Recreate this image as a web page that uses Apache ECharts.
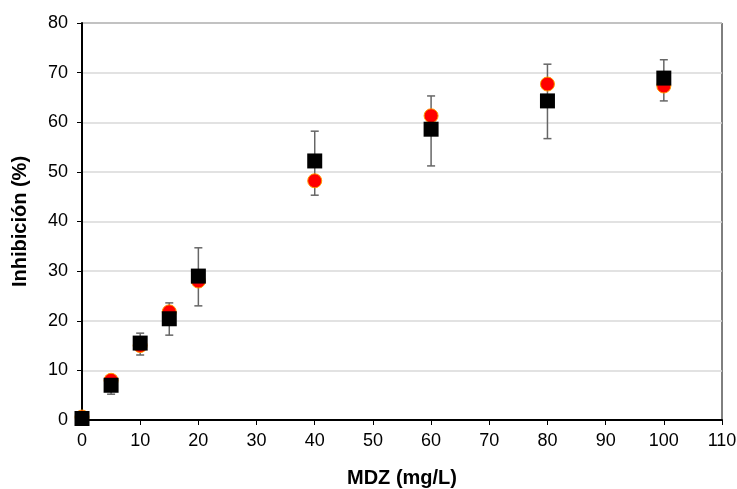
<!DOCTYPE html>
<html>
<head>
    <meta charset="utf-8">
    <title>ECharts</title>
    <script src="https://cdn.jsdelivr.net/npm/echarts@6/dist/echarts.min.js"></script>
</head>
<body style="margin:0">
    <div id="main" style="width: 737px;height:489px;"></div>
    <script>
        var doses = [0, 5, 10, 15, 20, 40, 60, 80, 100];
        var circleVals = [0.6, 8.0, 15.0, 21.8, 28.0, 48.2, 61.3, 67.7, 67.3];
        var squareVals = [0.3, 7.0, 15.5, 20.4, 29.0, 52.2, 58.6, 64.3, 68.9];
        var errLow = [0.3, 5.2, 13.1, 17.1, 23.0, 45.3, 51.2, 56.7, 64.3];
        var errHigh = [0.3, 8.8, 17.5, 23.6, 34.7, 58.2, 65.3, 71.7, 72.6];
        var xTicks = [0, 10, 20, 30, 40, 50, 60, 70, 80, 90, 100, 110];
        var yTicks = [0, 10, 20, 30, 40, 50, 60, 70, 80];

        var chartDom = document.getElementById('main');
        var myChart = echarts.init(chartDom);
        var option;

        var font = 'Liberation Sans, Arial, sans-serif';

        var errData = doses.map(function (d, i) {
            return [d, errLow[i], errHigh[i]];
        });

        option = {
            animation: false,
            backgroundColor: '#fff',
            grid: {
                left: 82,
                right: 15,
                top: 23,
                bottom: 69,
                outerBoundsMode: 'none',
                containLabel: false,
                show: true,
                borderColor: '#000',
                borderWidth: 1
            },
            xAxis: {
                type: 'value',
                min: xTicks[0],
                max: xTicks[xTicks.length - 1],
                interval: 10,
                name: 'MDZ (mg/L)',
                nameLocation: 'middle',
                nameGap: 48,
                nameTextStyle: { fontFamily: font, fontSize: 20, fontWeight: 'bold', color: '#000' },
                axisLine: { lineStyle: { color: '#000', width: 2 } },
                axisTick: { inside: false, length: 5, lineStyle: { color: '#000' } },
                axisLabel: { fontFamily: font, fontSize: 18, color: '#000', margin: 12 },
                splitLine: { show: false }
            },
            yAxis: {
                type: 'value',
                min: yTicks[0],
                max: yTicks[yTicks.length - 1],
                interval: 10,
                name: 'Inhibición (%)',
                nameLocation: 'middle',
                nameGap: 52,
                nameTextStyle: { fontFamily: font, fontSize: 20, fontWeight: 'bold', color: '#000' },
                axisLine: { show: true, lineStyle: { color: '#000', width: 2 } },
                axisTick: { show: true, inside: false, length: 5, lineStyle: { color: '#000' } },
                axisLabel: { fontFamily: font, fontSize: 18, color: '#000', margin: 14 },
                splitLine: { show: true, lineStyle: { color: '#d9d9d9', width: 1.5 } }
            },
            series: [
                {
                    type: 'custom',
                    z: 1,
                    data: errData,
                    renderItem: function (params, api) {
                        var x = api.value(0);
                        var lo = api.coord([x, api.value(1)]);
                        var hi = api.coord([x, api.value(2)]);
                        var cap = 4;
                        var style = { stroke: '#666', lineWidth: 1.5 };
                        return {
                            type: 'group',
                            children: [
                                { type: 'line', shape: { x1: lo[0], y1: lo[1], x2: hi[0], y2: hi[1] }, style: style },
                                { type: 'line', shape: { x1: lo[0] - cap, y1: lo[1], x2: lo[0] + cap, y2: lo[1] }, style: style },
                                { type: 'line', shape: { x1: hi[0] - cap, y1: hi[1], x2: hi[0] + cap, y2: hi[1] }, style: style }
                            ]
                        };
                    }
                },
                {
                    type: 'scatter',
                    z: 2,
                    symbol: 'circle',
                    symbolSize: 14,
                    itemStyle: { color: '#ff0000', borderColor: '#ff9900', borderWidth: 1, opacity: 1 },
                    data: doses.map(function (d, i) { return [d, circleVals[i]]; })
                },
                {
                    type: 'scatter',
                    z: 3,
                    symbol: 'rect',
                    symbolSize: 15,
                    itemStyle: { color: '#000', opacity: 1 },
                    data: doses.map(function (d, i) { return [d, squareVals[i]]; })
                }
            ]
        };

        option && myChart.setOption(option);
    </script>
</body>
</html>
